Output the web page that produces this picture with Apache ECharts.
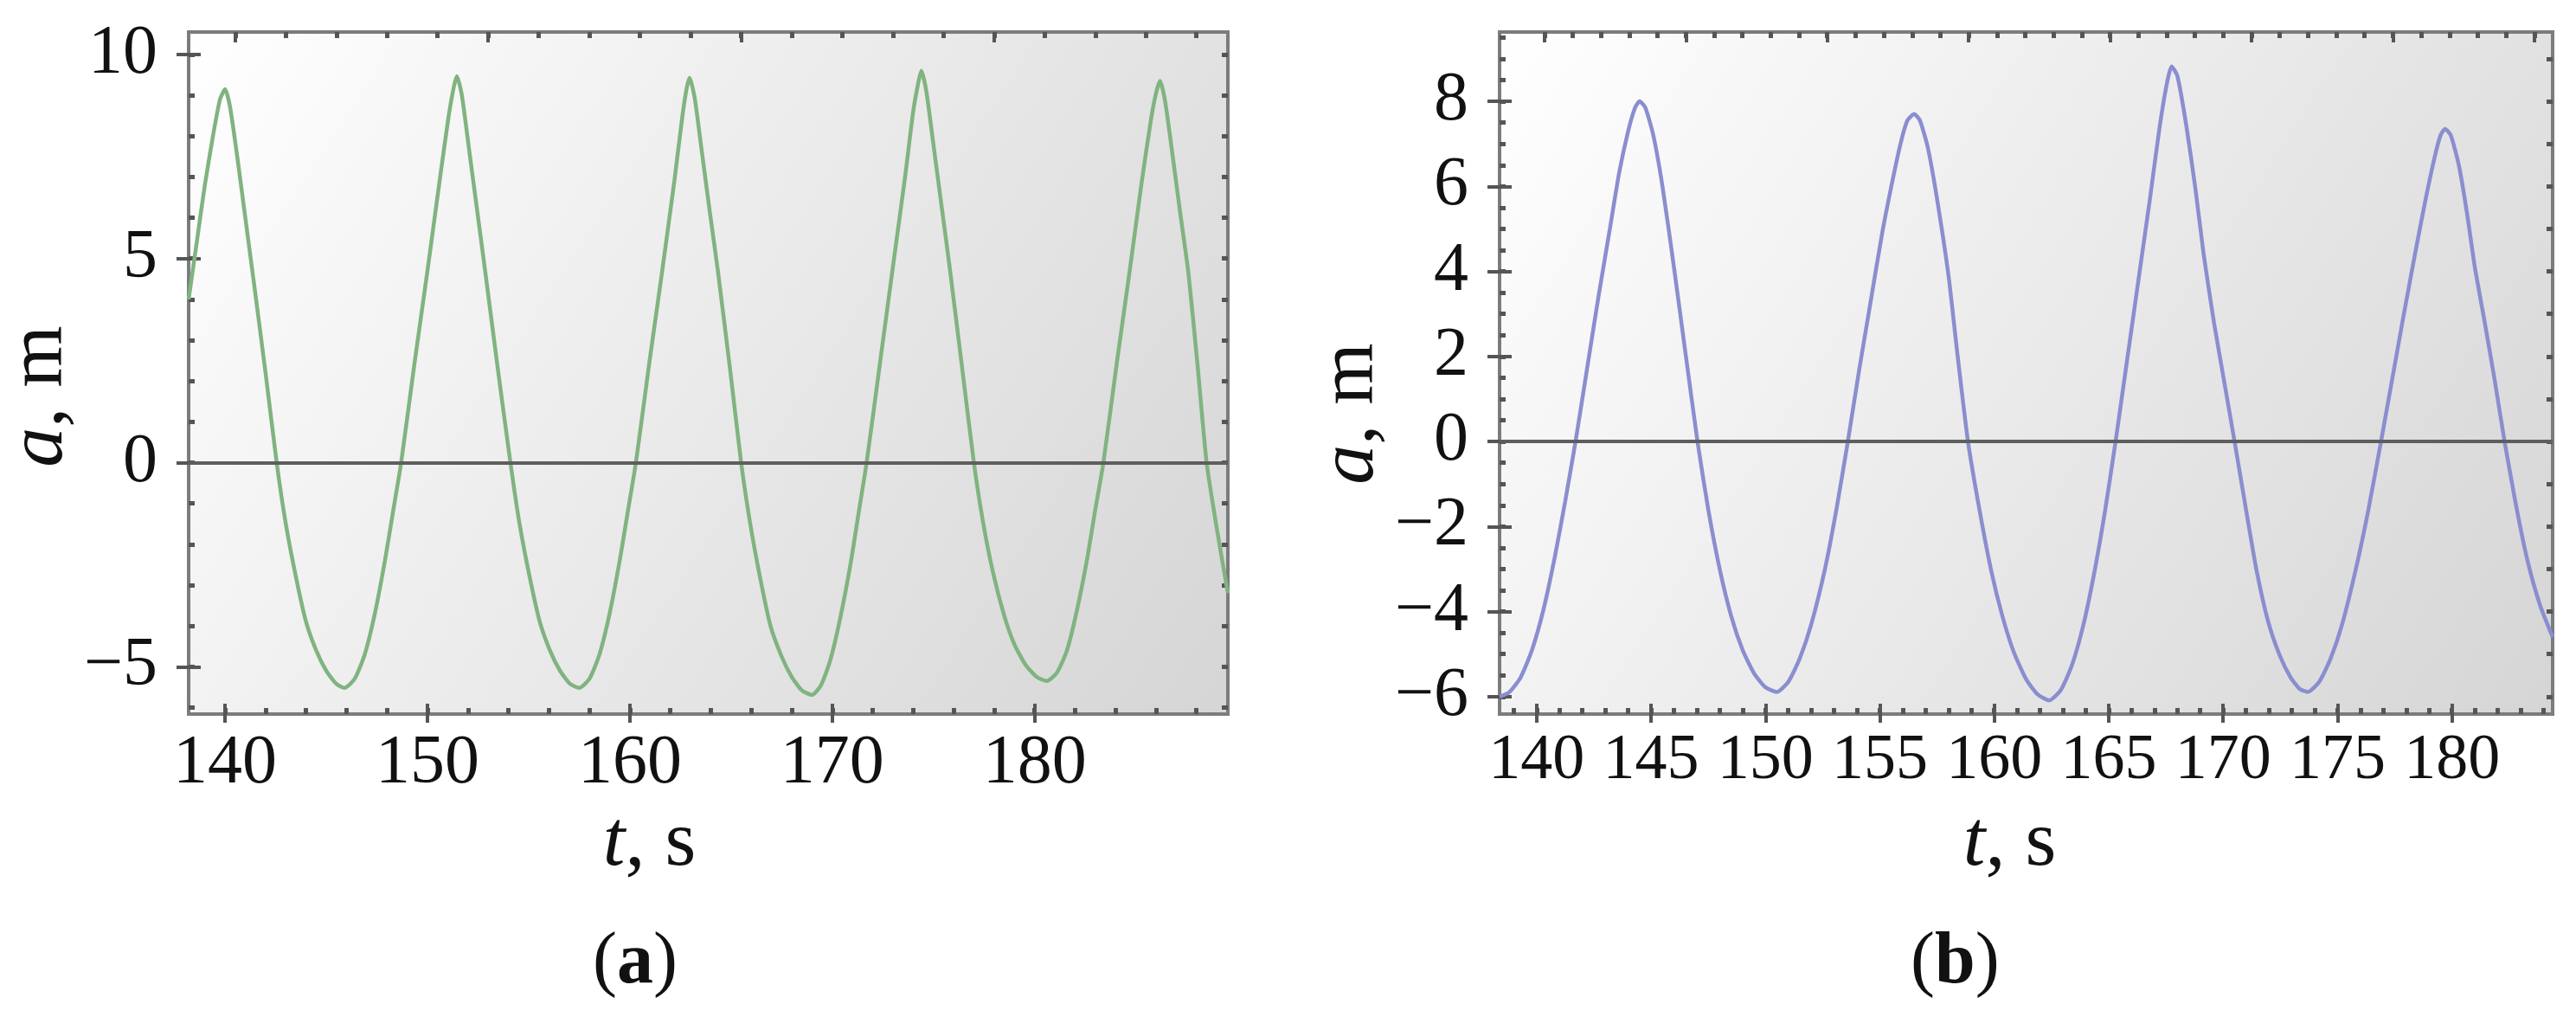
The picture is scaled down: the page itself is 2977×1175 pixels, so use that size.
<!DOCTYPE html>
<html><head><meta charset="utf-8">
<script src="https://cdn.jsdelivr.net/npm/echarts@6/dist/echarts.min.js"></script>
<style>html,body{margin:0;padding:0;background:#fff}#c{width:2977px;height:1175px}</style>
</head><body><div id="c"></div>
<script>
// ---------- data ----------
var leftT = [138.2,138.6,139.0,139.4,139.75,140.0,140.25,140.6,141.0,141.4,142.0,142.55,
  143.0,143.5,144.0,144.5,145.0,145.5,145.9,146.4,146.9,147.4,147.9,148.3,148.7,
  149.35,150.0,150.6,151.05,151.3,151.45,151.7,152.05,152.45,152.85,153.45,154.1,
  154.55,155.05,155.55,156.05,156.55,157.05,157.5,158.0,158.5,159.0,159.5,159.9,160.3,
  160.95,161.6,162.2,162.6,162.8,162.95,163.2,163.55,163.95,164.35,164.95,165.5,
  165.95,166.45,166.95,167.5,168.0,168.5,169.0,169.45,169.9,170.4,170.9,171.3,171.7,
  172.35,173.0,173.6,174.0,174.25,174.4,174.65,175.0,175.4,175.8,176.4,177.0,
  177.45,177.95,178.5,179.0,179.55,180.1,180.6,181.1,181.6,182.1,182.6,183.0,183.4,
  184.05,184.7,185.3,185.75,186.0,186.2,186.45,186.8,187.2,187.6,188.05,188.5,189.0,189.55];
var leftA = [4.0,5.4,6.8,8.0,8.9,9.15,8.7,7.5,6.0,4.5,2.2,0,
  -1.5,-2.8,-3.9,-4.6,-5.1,-5.42,-5.52,-5.3,-4.7,-3.7,-2.4,-1.2,0,
  2.4,4.7,6.9,8.5,9.2,9.47,9.0,7.7,6.2,4.7,2.4,0,
  -1.5,-2.8,-3.9,-4.6,-5.1,-5.42,-5.52,-5.3,-4.7,-3.7,-2.4,-1.2,0,
  2.4,4.7,6.9,8.5,9.15,9.43,8.95,7.65,6.15,4.7,2.3,0,
  -1.5,-2.85,-4.0,-4.75,-5.25,-5.58,-5.69,-5.45,-4.85,-3.8,-2.5,-1.25,0,
  2.4,4.8,7.0,8.6,9.3,9.6,9.1,7.8,6.3,4.8,2.4,0,
  -1.45,-2.7,-3.75,-4.45,-4.95,-5.25,-5.35,-5.15,-4.6,-3.6,-2.35,-1.15,0,
  2.4,4.7,6.9,8.4,9.05,9.35,8.85,7.6,6.1,4.65,2.4,0,-1.6,-3.2];

var rightT = [138.38,138.8,139.3,139.8,140.3,140.8,141.25,141.7,
  142.2,142.7,143.2,143.6,144.0,144.3,144.5,144.75,145.1,145.5,146.0,146.5,147.03,
  147.5,148.0,148.5,149.0,149.5,150.0,150.5,151.0,151.5,152.0,152.6,153.1,153.6,
  154.1,154.6,155.1,155.5,155.9,156.2,156.5,156.75,157.1,157.5,158.0,158.4,158.85,
  159.35,159.85,160.35,160.85,161.4,161.9,162.4,162.9,163.4,163.9,164.4,164.85,165.3,
  165.8,166.3,166.8,167.2,167.5,167.75,168.0,168.4,168.8,169.15,169.6,170.05,170.5,
  171.0,171.45,171.95,172.45,172.95,173.35,173.7,174.2,174.7,175.2,175.8,176.35,176.9,
  177.4,177.9,178.4,178.85,179.25,179.5,179.7,179.95,180.3,180.65,181.0,181.4,181.85,182.3,
  182.8,183.3,183.85,184.4];
var rightA = [-6.0,-5.9,-5.55,-4.9,-3.95,-2.7,-1.4,0,
  1.7,3.4,5.0,6.3,7.3,7.85,8.0,7.85,7.2,6.0,4.1,2.1,0,
  -1.6,-3.0,-4.1,-4.9,-5.45,-5.78,-5.89,-5.65,-5.1,-4.3,-3.0,-1.6,0,
  1.7,3.3,4.9,6.0,7.0,7.55,7.7,7.55,6.9,5.7,3.9,2.0,0,
  -1.6,-3.0,-4.1,-4.95,-5.6,-5.95,-6.09,-5.85,-5.25,-4.3,-3.0,-1.6,0,
  1.9,3.8,5.7,7.3,8.3,8.82,8.6,7.4,5.9,4.4,2.8,1.4,0,
  -1.6,-3.0,-4.2,-5.0,-5.55,-5.82,-5.89,-5.65,-5.1,-4.3,-3.0,-1.6,0,
  1.5,3.0,4.45,5.7,6.7,7.2,7.35,7.2,6.5,5.4,4.1,2.9,1.5,0,
  -1.5,-2.8,-3.85,-4.6];

// tick labels
var leftXTicks = [140,150,160,170,180];
var leftYTicks = [10,5,0,-5];
var rightXTicks = [140,145,150,155,160,165,170,175,180];
var rightYTicks = [8,6,4,2,0,-2,-4,-6];

// ---------- helpers ----------
function range(a, b, step) { var r = []; for (var v = a; v <= b + 1e-9; v += step) r.push(+v.toFixed(4)); return r; }
function pairs(t, a) { return t.map(function (v, i) { return [v, a[i]]; }); }
var FONT = '"Liberation Serif","DejaVu Serif",serif';
var TICK = '#555';
function fmt(v) { return v < 0 ? '\u2212' + Math.abs(v) : String(v); }

var option = { animation: false, grid: [], xAxis: [], yAxis: [], series: [], title: [] };

function addPanel(p) {
  var gi = option.grid.length;
  option.grid.push({
    left: p.grid[0], top: p.grid[1], width: p.grid[2], height: p.grid[3], show: true,
    borderColor: '#7c7c7c', borderWidth: 4,
    backgroundColor: { type: 'linear', x: 0, y: 0, x2: 1, y2: 1,
      colorStops: [{ offset: 0, color: '#ffffff' }, { offset: 1, color: '#d5d5d5' }] }
  });
  var xi = option.xAxis.length, yi = option.yAxis.length;
  function xa(o) { return Object.assign({ type: 'value', gridIndex: gi, min: p.xr[0], max: p.xr[1],
    axisLine: { show: false, onZero: false }, splitLine: { show: false }, axisLabel: { show: false } }, o); }
  function ya(o) { return Object.assign({ type: 'value', gridIndex: gi, min: p.yr[0], max: p.yr[1],
    axisLine: { show: false, onZero: false }, splitLine: { show: false }, axisLabel: { show: false } }, o); }
  // bottom main axis with labels
  option.xAxis.push(xa({ position: 'bottom',
    axisLabel: { show: true, customValues: p.xTicks, margin: 18, fontSize: p.xFs, fontFamily: FONT, color: '#111', formatter: fmt },
    axisTick: { show: true, customValues: p.xTicks, inside: false, length: 10, lineStyle: { color: TICK, width: 4 } },
    name: '{i|t}, s', nameLocation: 'middle', nameGap: 104,
    nameTextStyle: { fontSize: 92, fontFamily: FONT, color: '#111', padding: p.xNamePad,
      rich: { i: { fontStyle: 'italic', fontSize: 92, fontFamily: FONT, color: '#111' } } }
  }));
  option.xAxis.push(xa({ position: 'bottom',
    axisTick: { show: true, customValues: p.xTicks, inside: true, length: 12, lineStyle: { color: TICK, width: 4 } } }));
  option.xAxis.push(xa({ position: 'bottom',
    axisTick: { show: true, customValues: p.xMinor, inside: true, length: 7, lineStyle: { color: TICK, width: 5 } } }));
  option.xAxis.push(xa({ position: 'top',
    axisTick: { show: true, customValues: p.topMajor, inside: true, length: 12, lineStyle: { color: TICK, width: 4 } } }));
  option.xAxis.push(xa({ position: 'top',
    axisTick: { show: true, customValues: p.topMinor, inside: true, length: 7, lineStyle: { color: TICK, width: 5 } } }));
  // left main axis
  option.yAxis.push(ya({ position: 'left',
    axisLabel: { show: true, customValues: p.yTicks, margin: p.yMargin, fontSize: p.yFs, fontFamily: FONT, color: '#111', formatter: fmt },
    axisTick: { show: true, customValues: p.yTicks, inside: false, length: 14, lineStyle: { color: TICK, width: 4 } },
    name: '{i|a}, m', nameLocation: 'middle', nameGap: p.yNameGap,
    nameTextStyle: { fontSize: 92, fontFamily: FONT, color: '#111', padding: p.yNamePad,
      rich: { i: { fontStyle: 'italic', fontSize: 92, fontFamily: FONT, color: '#111' } } }
  }));
  option.yAxis.push(ya({ position: 'left',
    axisTick: { show: true, customValues: p.yTicks, inside: true, length: 14, lineStyle: { color: TICK, width: 4 } } }));
  option.yAxis.push(ya({ position: 'left',
    axisTick: { show: true, customValues: p.yMinor, inside: true, length: 7, lineStyle: { color: TICK, width: 5 } } }));
  option.yAxis.push(ya({ position: 'right',
    axisTick: { show: true, customValues: p.rightTicks, inside: true, length: 7, lineStyle: { color: TICK, width: 5 } } }));

  option.series.push({
    type: 'line', xAxisIndex: xi, yAxisIndex: yi, data: p.data, showSymbol: false, smooth: 0.2,
    lineStyle: { color: p.color, width: 4.5 }, z: 3,
    markLine: { silent: true, symbol: ['none', 'none'], label: { show: false },
      lineStyle: { color: '#5e5e5e', width: 4, type: 'solid' }, data: [{ yAxis: 0 }] }
  });
  option.title.push({ text: '({b|' + p.tag + '})', left: p.tagPos[0], top: p.tagPos[1],
    textStyle: { fontSize: 84, fontFamily: FONT, fontWeight: 'normal', color: '#111',
      rich: { b: { fontSize: 84, fontFamily: FONT, fontWeight: 'bold', color: '#111' } } } });
}

addPanel({
  grid: [208, 37, 1211, 788], xr: [138.2, 189.55], yr: [-6.16, 10.55],
  xTicks: leftXTicks, xMinor: range(140, 188, 2), yTicks: leftYTicks, yMinor: range(-6, 10, 1),
  rightTicks: range(-6, 10, 1), topMajor: range(140.5, 189, 12.5), topMinor: range(140.5, 189, 2.5),
  xFs: 80, yFs: 80, yMargin: 36, yNameGap: 115, yNamePad: [0, 54, 0, 0], xNamePad: [0, 136, 0, 0],
  data: pairs(leftT, leftA), color: '#80b380', tag: 'a', tagPos: [680, 1066]
});
addPanel({
  grid: [1733, 37, 1217, 788], xr: [138.38, 184.4], yr: [-6.41, 9.63],
  xTicks: rightXTicks, xMinor: range(139, 184, 1), yTicks: rightYTicks, yMinor: range(-6, 9.5, 0.5),
  rightTicks: range(-6, 9, 1), topMajor: range(140.34, 184, 6.18), topMinor: range(140.34, 184, 1.236),
  xFs: 74, yFs: 80, yMargin: 36, yNameGap: 123, yNamePad: [0, 94, 0, 0], xNamePad: [0, 38, 0, 0],
  data: pairs(rightT, rightA), color: '#8a8ecf', tag: 'b', tagPos: [2203, 1066]
});

var chart = echarts.init(document.getElementById('c'), null, { renderer: 'canvas' });
chart.setOption(option);
</script></body></html>
